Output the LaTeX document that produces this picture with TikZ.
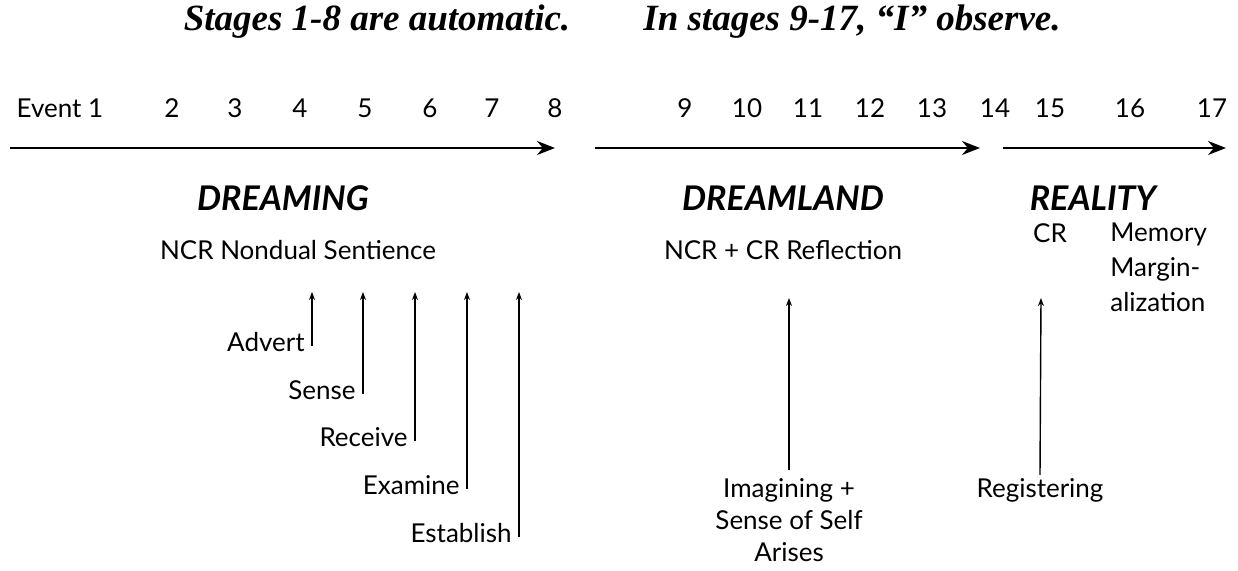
\documentclass[tikz,border=0pt]{standalone}
\usepackage{fontspec}
\setmainfont{Lato}
\newfontfamily\headfont{Liberation Serif}
\usetikzlibrary{arrows.meta}

\begin{document}
\begin{tikzpicture}[x=0.5pt, y=-0.5pt,
    every node/.style={font=\fontsize{13}{16}\selectfont, inner sep=0pt},
    head/.style={font=\headfont\fontsize{18.5}{22}\selectfont\bfseries\itshape},
    phase/.style={font=\fontsize{17}{20}\selectfont\bfseries\itshape},
    timeline/.style={-{Stealth[length=9pt, width=7pt]}, line width=1pt},
    pointer/.style={-{Stealth[length=4pt, width=3pt]}, line width=0.7pt}]
  \useasboundingbox (0,0) rectangle (1238,571);
  % headings
  \node[head] (auto) at (377,22) {Stages 1-8 are automatic.};
  \node[head] (obs) at (852,22) {In stages 9-17, “I” observe.};
  % stage numbers
  \node (s1) at (60,108) {Event 1};
  \foreach \n/\x in {2/172, 3/235, 4/300, 5/365, 6/430, 7/492, 8/555,
                     9/685, 10/747, 11/808, 12/870, 13/932, 14/995,
                     15/1050, 16/1130, 17/1212}
    \node (s\n) at (\x,108) {\n};
  % time lines
  \coordinate (a1) at (10,148);  \coordinate (b1) at (555,148);
  \coordinate (a2) at (595,148); \coordinate (b2) at (980,148);
  \coordinate (a3) at (1003,148); \coordinate (b3) at (1226,148);
  \draw[timeline] (a1) -- (b1);
  \draw[timeline] (a2) -- (b2);
  \draw[timeline] (a3) -- (b3);
  % phases
  \node[phase] (dreaming) at (283,198) {DREAMING};
  \node[phase] (dreamland) at (783,198) {DREAMLAND};
  \node[phase] (reality) at (1093,198) {REALITY};
  \node (ncr) at (298,250) {NCR Nondual Sentience};
  \node (refl) at (783,250) {NCR + CR Reflection};
  \node (cr) at (1050,233) {CR};
  \node[align=left, anchor=north west, font=\fontsize{13}{17.5}\selectfont] (memory) at (1110,222) {Memory\\Margin-\\alization};
  % automatic stages
  \foreach \name/\txt/\x/\y in {advert/Advert/312/352, sense/Sense/363/400,
                                receive/Receive/415/447, examine/Examine/467/495,
                                establish/Establish/519/543} {
    \coordinate (\name top) at (\x,292);
    \node[anchor=base east] (\name) at (\x-7,\y) {\txt};
    \draw[pointer] (\name.base east -| \name top) ++(0,-6) -- (\name top);
  }
  % observed stages
  \coordinate (imagtop) at (789,298);
  \node[align=center, anchor=north] (imag) at (789,478) {Imagining +\\Sense of Self\\Arises};
  \draw[pointer] (imag.north) ++(0,-8) -- (imagtop);
  \coordinate (regtop) at (1041,298);
  \node[anchor=north] (reg) at (1040,478) {Registering};
  \draw[pointer] (reg.north) ++(0,-3) -- (regtop);
\end{tikzpicture}
\end{document}
